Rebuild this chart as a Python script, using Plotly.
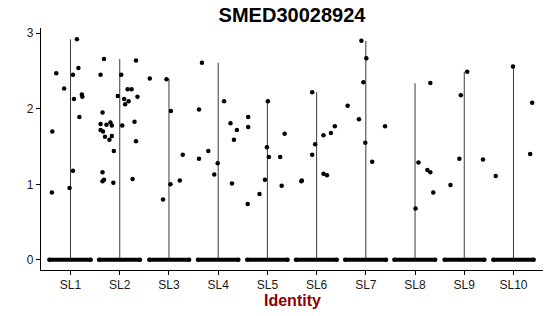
import plotly.graph_objects as go

title_text = "SMED30028924"
x_title = "Identity"
groups = ["SL1", "SL2", "SL3", "SL4", "SL5", "SL6", "SL7", "SL8", "SL9", "SL10"]
y_ticks = [0, 1, 2, 3]

# non-zero expression values per identity, with the horizontal jitter
sl1_vals = [2.92, 2.47, 2.54, 2.45, 2.27, 2.19, 2.16, 2.13, 1.89, 1.70, 1.18, 0.95, 0.89]
sl1_jit = [0.13, -0.29, 0.16, 0.05, -0.13, 0.23, 0.24, 0.07, 0.18, -0.37, 0.05, -0.02, -0.38]
sl2_vals = [2.66, 2.64, 2.45, 2.45, 2.26, 2.26, 2.17, 2.16, 2.13, 2.10, 2.06, 1.95, 1.83, 1.80, 1.82,
            1.79, 1.78, 1.78, 1.72, 1.70, 1.64, 1.63, 1.59, 1.57, 1.44, 1.16, 1.07, 1.06, 1.04, 1.02]
sl2_jit = [-0.32, 0.33, -0.39, 0.03, 0.16, 0.24, -0.04, 0.36, 0.09, 0.18, 0.11, -0.35, 0.30, -0.39, -0.19,
           -0.27, -0.16, 0.05, -0.39, -0.34, -0.16, -0.30, -0.21, 0.33, -0.12, -0.35, 0.26, -0.32, -0.35, -0.13]
sl3_vals = [2.40, 2.39, 1.97, 1.39, 1.05, 1.00, 0.80]
sl3_jit = [-0.39, -0.05, 0.04, 0.28, 0.22, 0.03, -0.12]
sl4_vals = [2.61, 2.10, 1.99, 1.81, 1.72, 1.59, 1.44, 1.34, 1.28, 1.13, 1.01]
sl4_jit = [-0.33, 0.12, -0.39, 0.25, 0.38, 0.32, -0.20, -0.39, -0.01, -0.08, 0.28]
sl5_vals = [2.10, 1.89, 1.76, 1.67, 1.49, 1.36, 1.36, 1.06, 0.98, 0.87, 0.74]
sl5_jit = [0.01, -0.39, -0.39, 0.35, -0.01, 0.03, 0.26, -0.05, 0.29, -0.16, -0.40]
sl6_vals = [2.22, 1.77, 1.68, 1.65, 1.53, 1.39, 1.14, 1.12, 1.05, 1.04]
sl6_jit = [-0.09, 0.37, 0.29, 0.14, -0.03, -0.09, 0.14, 0.21, -0.30, -0.31]
sl7_vals = [2.90, 2.67, 2.35, 2.04, 1.86, 1.77, 1.55, 1.30]
sl7_jit = [-0.09, 0.01, -0.05, -0.37, -0.14, 0.39, -0.01, 0.13]
sl8_vals = [2.34, 1.29, 1.19, 1.16, 0.89, 0.68]
sl8_jit = [0.31, 0.07, 0.25, 0.31, 0.37, 0.01]
sl9_vals = [2.49, 2.18, 1.34, 1.33, 0.99]
sl9_jit = [0.06, -0.07, -0.10, 0.38, -0.28]
sl10_vals = [2.56, 2.08, 1.40, 1.11]
sl10_jit = [-0.01, 0.38, 0.34, -0.36]

# horizontal spread of the many zero-valued cells (jitter extent)
zero_lo = [-0.43, -0.42, -0.40, -0.41, -0.41, -0.42, -0.42, -0.42, -0.40, -0.41]
zero_hi = [0.41, 0.41, 0.41, 0.41, 0.41, 0.41, 0.41, 0.41, 0.41, 0.41]

all_vals = [sl1_vals, sl2_vals, sl3_vals, sl4_vals, sl5_vals, sl6_vals, sl7_vals, sl8_vals, sl9_vals, sl10_vals]
all_jit = [sl1_jit, sl2_jit, sl3_jit, sl4_jit, sl5_jit, sl6_jit, sl7_jit, sl8_jit, sl9_jit, sl10_jit]

FONT = "Liberation Sans, Arial, sans-serif"
fig = go.Figure()

# thin violins (nearly all cells are zero) -> vertical lines from 0 to max
for i, vals in enumerate(all_vals):
    pos = i + 1
    fig.add_trace(go.Scatter(x=[pos, pos], y=[0, max(vals)], mode="lines",
                             line=dict(color="#3a3a3a", width=1), hoverinfo="skip", showlegend=False))

# zero-valued cells (dense jitter band, rounded ends)
for i in range(len(groups)):
    pos = i + 1
    fig.add_trace(go.Scatter(x=[pos + zero_lo[i], pos + zero_hi[i]], y=[0, 0], mode="lines+markers",
                             line=dict(color="black", width=4), marker=dict(color="black", size=4.5),
                             showlegend=False, hoverinfo="skip"))

# non-zero cells
for i, (vals, jit) in enumerate(zip(all_vals, all_jit)):
    pos = i + 1
    fig.add_trace(go.Scatter(x=[pos + j for j in jit], y=vals, mode="markers",
                             marker=dict(color="black", size=4.5), showlegend=False))

fig.update_layout(
    width=550, height=316,
    margin=dict(l=41, r=7, t=28, b=46),
    paper_bgcolor="white", plot_bgcolor="white",
    font=dict(family=FONT, color="black", size=12),
    title=dict(text="<b>" + title_text + "</b>", x=0.5, xref="paper", xanchor="center",
               y=1 - 15 / 316, yref="container", yanchor="middle",
               font=dict(size=20, color="black", family=FONT)),
    showlegend=False,
)
fig.update_xaxes(range=[0.4, 10.6], tickvals=list(range(1, len(groups) + 1)), ticktext=groups,
                 showline=True, linecolor="black", linewidth=1.1, ticks="outside", ticklen=4,
                 tickcolor="black", tickwidth=1, showgrid=False, zeroline=False,
                 tickfont=dict(size=12, color="#1a1a1a", family=FONT))
fig.update_yaxes(range=[-0.135, 3.07], tickvals=y_ticks, ticktext=[str(t) for t in y_ticks],
                 showline=True, linecolor="black", linewidth=1.1, ticks="outside", ticklen=4,
                 tickcolor="black", tickwidth=1, showgrid=False, zeroline=False,
                 tickfont=dict(size=12, color="#1a1a1a", family=FONT))
fig.add_annotation(text="<b>" + x_title + "</b>", xref="paper", yref="paper", x=0.5, y=-30 / 242,
                   xanchor="center", yanchor="middle", showarrow=False,
                   font=dict(size=16, color="#8B0000", family=FONT))

fig.write_html("out.html")
